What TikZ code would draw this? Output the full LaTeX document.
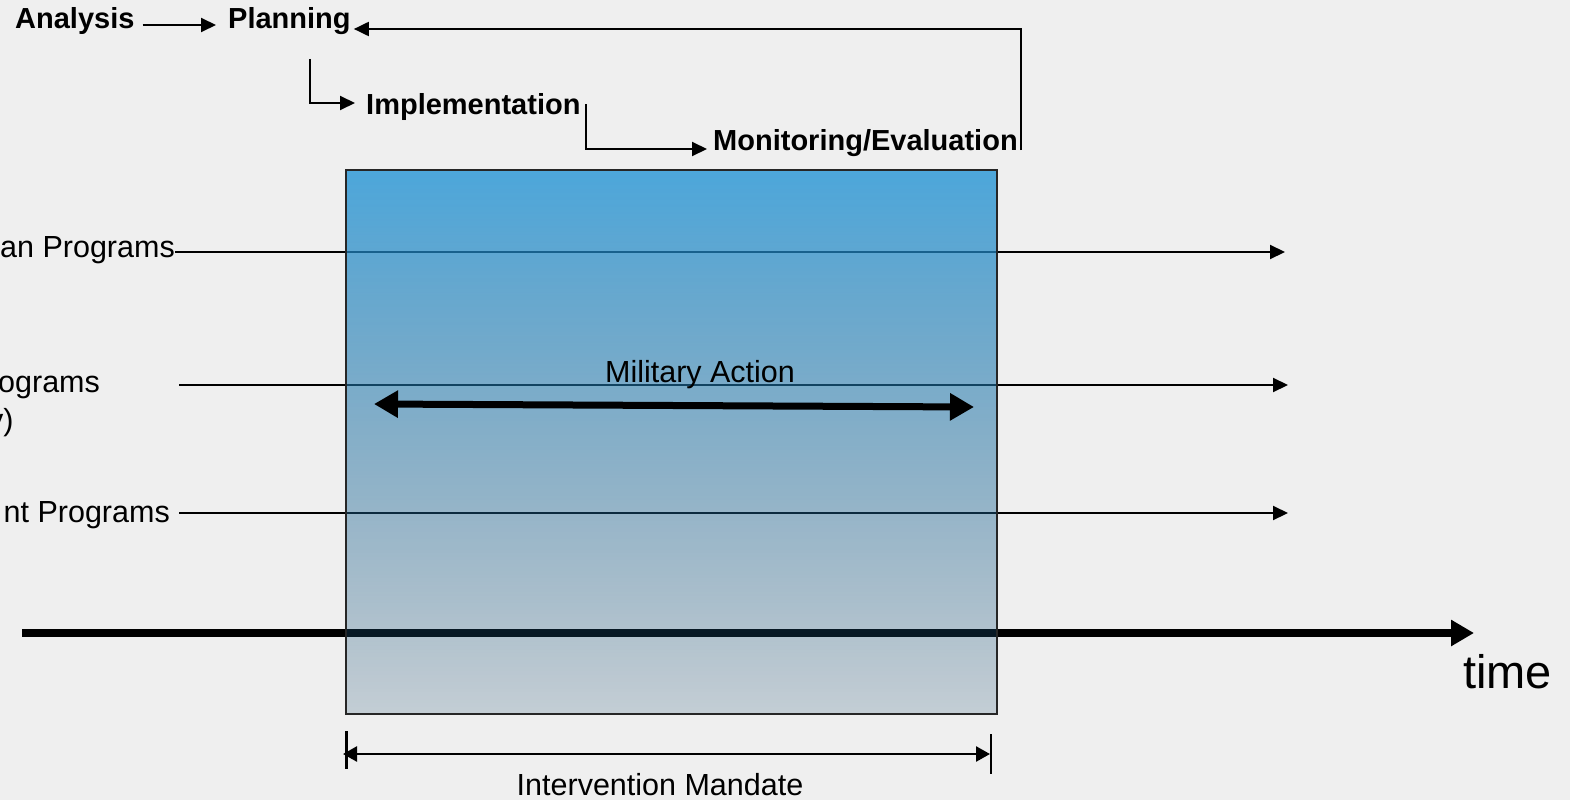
\documentclass[tikz,border=0pt]{standalone}
\usepackage{fontspec}
\setmainfont{Liberation Sans}
\usetikzlibrary{arrows.meta,fadings}
\definecolor{bg}{RGB}{239,239,239}
\definecolor{boxtop}{RGB}{36,149,214}
\definecolor{boxbot}{RGB}{25,75,110}
\tikzfading[name=boxfade, top color=transparent!20, bottom color=transparent!80]
\begin{document}
\begin{tikzpicture}
  [x=1pt,y=-1pt,
  phase/.style={inner sep=0pt,font=\bfseries\fontsize{29}{34}\selectfont},
  lbl/.style={inner sep=0pt,font=\fontsize{30.5}{36}\selectfont},
  flow/.style={line width=2pt,-{Triangle[length=15pt,width=14pt]}},
  timeline/.style={line width=7.5pt,-{Triangle[length=23pt,width=25pt]}},
  twoway/.style={line width=7pt,{Triangle[length=24pt,width=26pt]}-{Triangle[length=24pt,width=26pt]}},
  mandate/.style={line width=2.5pt,{Triangle[length=14pt,width=15pt]}-{Triangle[length=14pt,width=15pt]}},
  endbar/.style={line width=2.5pt}]

  \fill[bg] (0,0) rectangle (1570,800);
  \useasboundingbox (0,0) rectangle (1570,800);

  \node[phase,anchor=base west] (analysis) at (15,29) {Analysis};
  \node[phase,anchor=base west] (planning) at (228,29) {Planning};
  \node[phase,anchor=base west] (impl) at (366,114) {Implementation};
  \node[phase,anchor=base west] (monitor) at (713,150) {Monitoring/Evaluation};

  \draw[flow] ([xshift=8pt,yshift=4pt]analysis.base east) -- ([xshift=-12pt,yshift=4pt]planning.base west);
  \draw[flow] ([xshift=82pt,yshift=-30pt]planning.base west) |- ([xshift=-11pt,yshift=11pt]impl.base west);
  \draw[flow] ([xshift=5pt,yshift=10pt]impl.base east) |- ([xshift=-6pt,yshift=1pt]monitor.base west);
  \draw[flow] ([xshift=3pt]monitor.base east) |- ([xshift=3pt]planning.base east);

  \node[lbl,anchor=base east] (human) at (175,257) {an Programs};
  \node[lbl,anchor=base west] (secure) at (-2,392) {ograms};
  \node[lbl,anchor=base west] (secure2) at (-12,430) {y)};
  \node[lbl,anchor=base east] (devel) at (170,522) {nt Programs};

  \coordinate (human-end) at (1285,252);
  \coordinate (secure-start) at (179,385);
  \coordinate (secure-end) at (1288,385);
  \coordinate (devel-end) at (1288,513);
  \coordinate (time-start) at (22,633);
  \coordinate (time-end) at (1474,633);

  \draw[flow] ([yshift=5pt]human.base east) -- (human-end);
  \draw[flow] (secure-start) -- (secure-end);
  \draw[flow] ([xshift=9pt,yshift=9pt]devel.base east) -- (devel-end);
  \draw[timeline] (time-start) -- (time-end);
  \node[lbl,font=\fontsize{47}{56}\selectfont,anchor=base west] (time) at (1463,688) {time};

  \shade[top color=boxtop,bottom color=boxbot,path fading=boxfade] (346,170) rectangle (997,714);
  \draw[line width=1.5pt,black!85] (346,170) rectangle (997,714);

  \coordinate (mil-l) at (374,404);
  \coordinate (mil-r) at (974,407);
  \draw[twoway] (mil-l) -- (mil-r);
  \node[lbl,anchor=base] (military) at (700,382) {Military Action};

  \coordinate (man-l) at (343,754);
  \coordinate (man-r) at (990,754);
  \draw[mandate] (man-l) -- (man-r);
  \draw[endbar] (346.5,731) -- (346.5,769);
  \draw[endbar] (991,734) -- (991,774);
  \node[lbl,anchor=base] (mandatetext) at (660,795) {Intervention Mandate};

\end{tikzpicture}
\end{document}
